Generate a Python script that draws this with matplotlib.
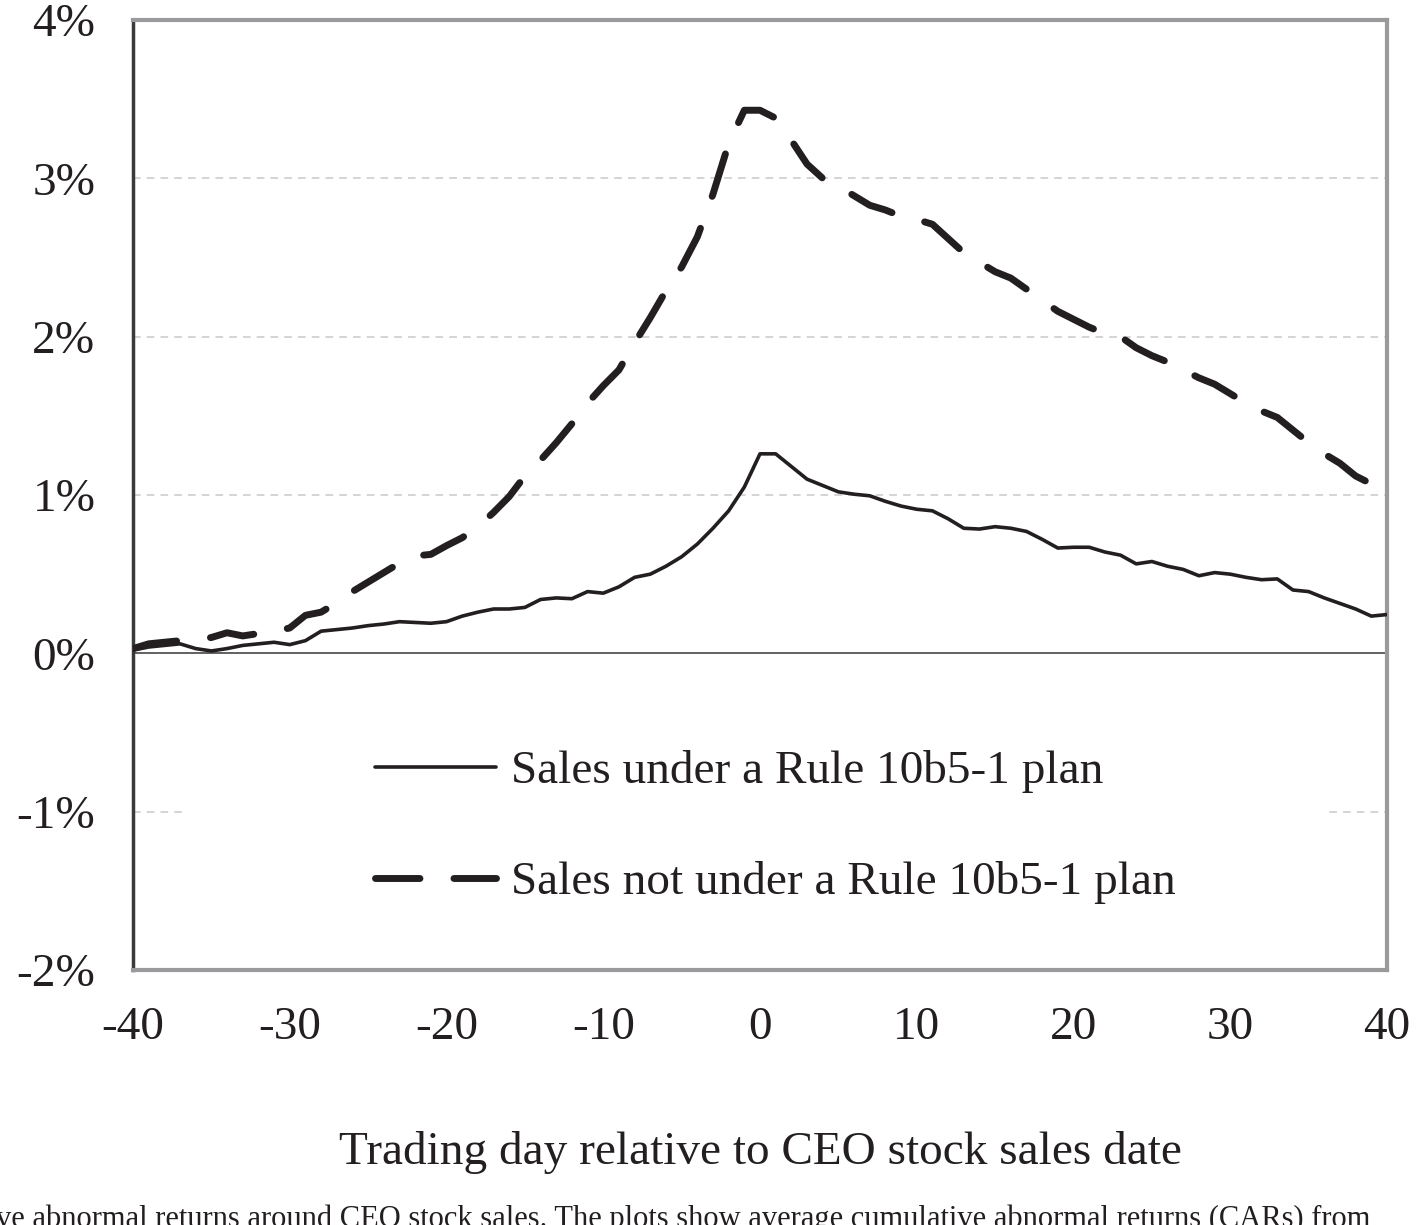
import matplotlib
matplotlib.use("Agg")
import matplotlib.pyplot as plt
from matplotlib.patches import Rectangle
from matplotlib.ticker import FuncFormatter

days = list(range(-40, 41))

plan_car = [0.02, 0.04, 0.05, 0.06, 0.03, 0.015, 0.03, 0.05, 0.06, 0.07,
            0.055, 0.08, 0.14, 0.15, 0.16, 0.175, 0.185, 0.20, 0.195, 0.19,
            0.20, 0.235, 0.26, 0.28, 0.28, 0.29, 0.34, 0.35, 0.345, 0.39,
            0.38, 0.42, 0.48, 0.50, 0.55, 0.61, 0.69, 0.79, 0.90, 1.05,
            1.26, 1.26, 1.18, 1.10, 1.06, 1.02, 1.005, 0.995, 0.96, 0.93,
            0.91, 0.90, 0.85, 0.79, 0.785, 0.80, 0.79, 0.77, 0.72, 0.665,
            0.67, 0.67, 0.64, 0.62, 0.565, 0.58, 0.55, 0.53, 0.49, 0.51,
            0.50, 0.48, 0.465, 0.47, 0.40, 0.39, 0.35, 0.315, 0.28, 0.235,
            0.245]

nonplan_car = [0.03, 0.06, 0.07, 0.08, 0.09, 0.10, 0.13, 0.11, 0.125, 0.14,
               0.16, 0.24, 0.26, 0.32, 0.39, 0.45, 0.51, 0.57, 0.615, 0.625,
               0.68, 0.73, 0.80, 0.89, 0.99, 1.12, 1.22, 1.33, 1.45, 1.58,
               1.69, 1.79, 1.96, 2.12, 2.29, 2.44, 2.63, 2.90, 3.22, 3.43,
               3.43, 3.38, 3.24, 3.09, 3.00, 2.95, 2.89, 2.83, 2.80, 2.76,
               2.74, 2.71, 2.62, 2.53, 2.47, 2.41, 2.37, 2.30, 2.23, 2.16,
               2.11, 2.06, 2.02, 2.00, 1.93, 1.88, 1.84, 1.79, 1.74, 1.70,
               1.64, 1.58, 1.53, 1.49, 1.41, 1.33, 1.26, 1.20, 1.12, 1.07,
               1.07]

x_ticks = [-40, -30, -20, -10, 0, 10, 20, 30, 40]
y_ticks = [-2, -1, 0, 1, 2, 3, 4]
series_labels = ["Sales under a Rule 10b5-1 plan", "Sales not under a Rule 10b5-1 plan"]
x_title = "Trading day relative to CEO stock sales date"
caption = ("ve abnormal returns around CEO stock sales. The plots show average "
           "cumulative abnormal returns (CARs) from")

plt.rcParams['font.family'] = ['Liberation Serif', 'DejaVu Serif']
plt.rcParams['axes.unicode_minus'] = False
ink = '#231f20'

fig = plt.figure(figsize=(14.26, 12.25), dpi=100)
ax = fig.add_axes([133/1426, 1-970/1225, 1254/1426, 950/1225])

ax.set_xlim(-40, 40)
ax.set_ylim(-2, 4)

# gridlines
for yv in [1, 2, 3, -1]:
    ax.axhline(yv, color='#c9c9c9', lw=1.1, ls=(0, (5, 4)), zorder=1)
ax.axhline(0, color='#555555', lw=1.3, zorder=2)

# white legend backing that hides part of the -1% gridline
ax.add_patch(Rectangle((0.044, 0.03), 0.91, 0.25, transform=ax.transAxes,
                       facecolor='white', edgecolor='none', zorder=1.5))

ax.plot(days, plan_car, color=ink, lw=2.6, solid_capstyle='round',
        solid_joinstyle='round', zorder=3, label=series_labels[0])
ax.plot(days, nonplan_car, color=ink, lw=5, dashes=(6.4, 4.9),
        dash_capstyle='round', dash_joinstyle='round', zorder=3,
        label=series_labels[1])

ax.set_xticks(x_ticks)
ax.set_yticks(y_ticks)
ax.xaxis.set_major_formatter(FuncFormatter(lambda v, p: f"{int(v)}"))
ax.yaxis.set_major_formatter(FuncFormatter(lambda v, p: f"{int(v)}%"))
ax.tick_params(axis='both', length=0, colors=ink)
ax.tick_params(axis='y', labelsize=34, pad=27)
ax.tick_params(axis='x', labelsize=34, pad=26)

for s in ['top', 'right', 'bottom']:
    ax.spines[s].set_color('#9a9a9c')
    ax.spines[s].set_linewidth(3)
ax.spines['left'].set_color('#3a3a3a')
ax.spines['left'].set_linewidth(2.5)

leg = ax.legend(loc='upper left', bbox_to_anchor=(0.178, 0.251), frameon=False,
                fontsize=34, handlelength=2.55, handletextpad=0.32,
                labelspacing=1.43, borderaxespad=0)
for t in leg.get_texts():
    t.set_color(ink)

fig.text((133+1387)/2/1426, 1-1152/1225, x_title, ha='center', va='center',
         fontsize=34, color=ink)
fig.text(-0.003, 1-1205/1225, caption, ha='left', va='top', fontsize=22,
         color=ink)

fig.savefig('out.png', dpi=100)
